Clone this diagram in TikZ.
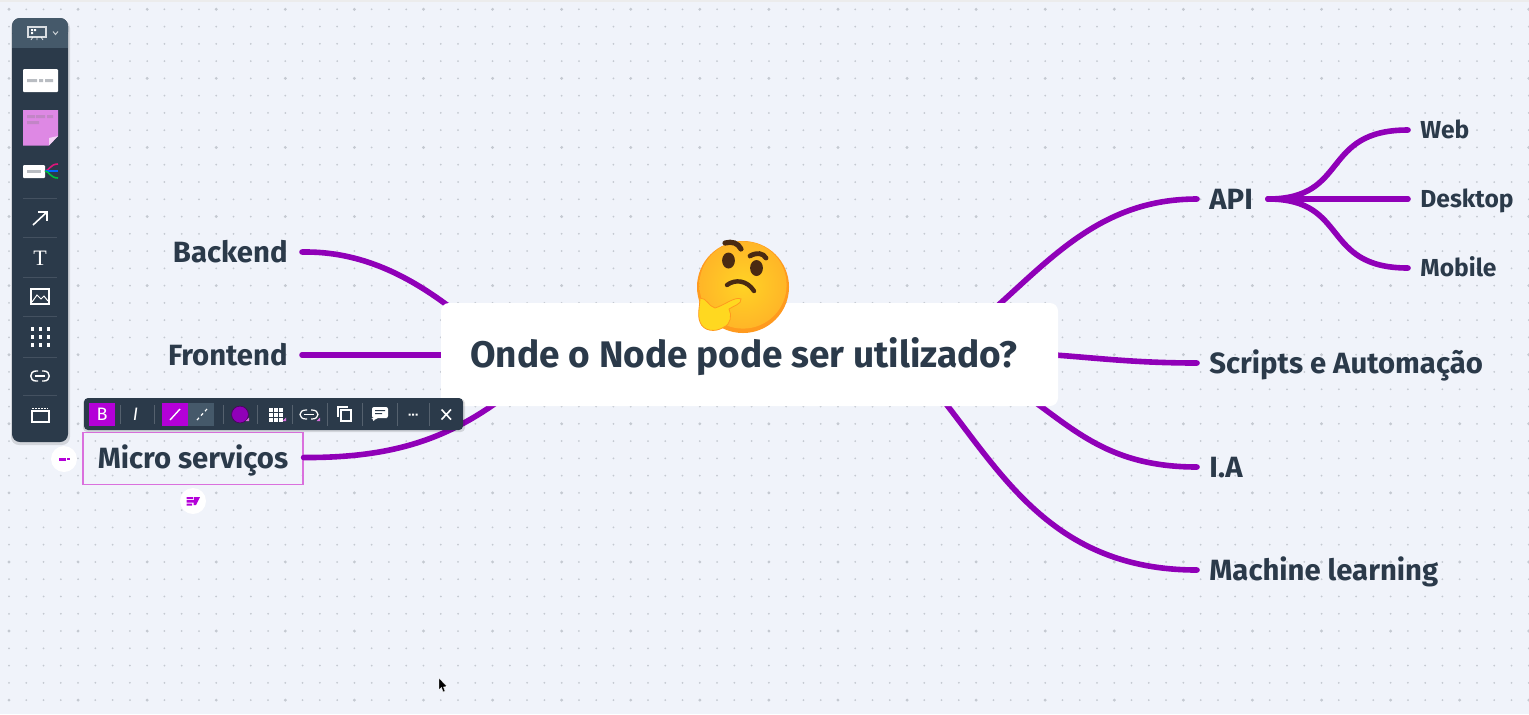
\documentclass[tikz,border=0pt]{standalone}
\usepackage{fontspec}
\setmainfont{Fira Sans}
\newfontfamily\serifish{Liberation Serif}
\definecolor{bgc}{HTML}{F0F3FA}
\definecolor{ink}{HTML}{2B3A4A}
\definecolor{barc}{HTML}{2B3A4A}
\definecolor{barl}{HTML}{45596A}
\definecolor{purp}{HTML}{9000B8}
\definecolor{mag}{HTML}{B400D8}
\definecolor{pinkb}{HTML}{DA70DD}
\definecolor{sticky}{HTML}{DE88E4}
\definecolor{dotc}{HTML}{C4C9D1}
\definecolor{gbar}{HTML}{B9BDC2}
\definecolor{yel}{HTML}{FFC82E}
\definecolor{ora}{HTML}{FF9A1E}
\definecolor{brow}{HTML}{4A2A12}
\tikzset{
  lab/.style={font=\bfseries\fontsize{14.65}{16}\selectfont,text=ink,inner ysep=4pt,inner xsep=6pt,text height=10pt,text depth=0pt},
  sublab/.style={font=\bfseries\fontsize{12.3}{14}\selectfont,text=ink,inner ysep=4pt,inner xsep=6pt,text height=8.6pt,text depth=0pt},
  conn/.style={draw=purp,line width=2.8pt,line cap=round},
  ico/.style={draw=white,line width=0.6pt},
  sep/.style={draw=white,opacity=0.12,line width=0.5pt},
  tsep/.style={draw=white,opacity=0.2,line width=0.5pt},
  wbtn/.style={circle,fill=white,minimum size=13pt,inner sep=0pt},
}
\begin{document}
\begin{tikzpicture}[x=0.5pt,y=-0.5pt]
\useasboundingbox (0,0) rectangle (1529,714);
\fill[bgc] (0,0) rectangle (1529,714);
\fill[white!85!gray] (0,0) rectangle (1529,2);
% dots
\foreach \i in {0,...,88}{\foreach \j in {0,...,40}{
  \pgfmathtruncatemacro{\big}{(mod(\i,4)==0 && mod(\j,4)==0)?1:0}
  \ifnum\big=1 \fill[dotc] ({9+17.27*\i},{9.3+17.27*\j}) circle (0.8pt);
  \else \fill[dotc] ({9+17.27*\i},{9.3+17.27*\j}) circle (0.5pt);\fi
}}
% labels
\node[lab,inner xsep=7pt,anchor=east] (back) at (288+14,252) {Backend};
\node[lab,inner xsep=7pt,anchor=east] (front) at (288+14,355) {Frontend};
\node[lab,anchor=center,draw=pinkb,line width=0.6pt,minimum width=110pt,minimum height=26pt,inner sep=0pt] (micro) at (193,458.5) {Micro serviços};
\node[lab,anchor=west] (api) at (1197,199) {API};
\node[lab,anchor=west] (scripts) at (1197,363) {Scripts e Automação};
\node[lab,anchor=west] (ia) at (1197,467) {I.A};
\node[lab,anchor=west] (ml) at (1197,570) {Machine learning};
\node[sublab,anchor=west] (web) at (1408,130) {Web};
\node[sublab,anchor=west] (desk) at (1408,199) {Desktop};
\node[sublab,anchor=west] (mob) at (1408,268) {Mobile};
\coordinate (cBack) at (460,315);
\coordinate (cFront) at (460,355);
\coordinate (cMicro) at (500,400);
\coordinate (cApi) at (985,317);
\coordinate (cScr) at (1040,354);
\coordinate (cIa) at (1025,395);
\coordinate (cMl) at (935,390);
\coordinate (apiR) at (1268,199);
% connectors
\draw[conn] (back.east) .. controls (360,251) and (410,275) .. (cBack);
\draw[conn] (front.east) -- (cFront);
\draw[conn] (micro.east) ++(0,-1) .. controls (390,458) and (445,440) .. (cMicro);
\draw[conn] (api.west) .. controls (1100,199) and (1050,260) .. (cApi);
\draw[conn] (scripts.west) .. controls (1130,363) and (1090,357) .. (cScr);
\draw[conn] (ia.west) .. controls (1110,467) and (1075,430) .. (cIa);
\draw[conn] (ml.west) .. controls (1050,570) and (1000,470) .. (cMl);
\draw[conn] (apiR) .. controls (1350,199) and (1320,130) .. (web.west);
\draw[conn] (apiR) -- (desk.west);
\draw[conn] (apiR) .. controls (1350,199) and (1320,268) .. (mob.west);
% centre
\node[fill=white,rounded corners=4pt,minimum width=308.5pt,minimum height=51.5pt,inner sep=0pt] (centre) at (749.5,354.5) {};
\node[font=\bfseries\fontsize{18.5}{20}\selectfont,text=ink,anchor=center,text height=12.8pt,text depth=0pt] (ctext) at (744,355) {Onde o Node pode ser utilizado?};
% emoji
\fill[ora] (743,287) circle (23pt);
\shade[inner color=yel!80!yellow,outer color=ora!40!yel] (743,285) circle (21.8pt);
\draw[brow,line width=2.6pt,line cap=round] (725,243) .. controls (732,241) and (738,243) .. (741,249);
\draw[brow,line width=2.4pt,line cap=round] (750,256) .. controls (757,252) and (763,253) .. (766,258);
\fill[brow] (728.5,260.5) ellipse (3.2pt and 4pt);
\fill[brow] (756.5,268) ellipse (3.2pt and 4pt);
\draw[brow,line width=2.2pt,line cap=round] (727,285) .. controls (735,279) and (747,280) .. (754,291);
\fill[yel!70!yellow,draw=ora,line width=0.4pt] (700,298) .. controls (707,298) and (708,306) .. (715,308) .. controls (725,305) and (735,296) .. (741,299) .. controls (742,304) and (733,306) .. (729,309) .. controls (732,315) and (731,324) .. (724,327) .. controls (715,333) and (703,331) .. (700,322) .. controls (697,315) and (700,305) .. (700,298) -- cycle;
% left panel
\fill[black,opacity=0.12,rounded corners=4pt] (11,20) rectangle (70,445);
\fill[barc,rounded corners=4pt] (12,18) rectangle (68,442);
\fill[barl,rounded corners=4pt] (12,18) rectangle (68,40);
\fill[barl] (12,34) rectangle (68,48);
% presentation icon
\draw[ico,opacity=0.8] (28,27) rectangle (46,37);
\fill[white] (31,29) rectangle (33,31) (34,29) rectangle (36,31) (31,32) rectangle (33,34);
\draw[ico,opacity=0.8,line width=0.4pt] (33,37) -- (31,40) (37,37) -- (37,40) (41,37) -- (43,40);
\draw[white,opacity=0.7,line width=0.5pt] (53,31.5) -- (55.5,34.5) -- (58,31.5);
% card
\fill[white,rounded corners=0.5pt] (23,69) rectangle (58,92);
\fill[gbar] (27,79) rectangle (37,82) (39,79) rectangle (43,82) (45,79) rectangle (53,82);
% sticky
\fill[sticky] (23,110) -- (58,110) -- (58,136) -- (49,145.5) -- (23,145.5) -- cycle;
\fill[white!65!sticky] (58,136) -- (49,145.5) -- (49,138) -- cycle;
\fill[sticky!70!gray] (27,115) rectangle (35,118) (36,115) rectangle (45,118) (47,115) rectangle (53,118) (27,121) rectangle (39,124);
% mini map
\fill[white,rounded corners=0.5pt] (23,165) rectangle (45,178);
\fill[gbar] (27,170) rectangle (41,173);
\draw[magenta!70!purple,line width=0.8pt] (45,171) .. controls (49,171) and (50,164) .. (58,164);
\draw[blue!60!cyan,line width=0.8pt] (45,171) -- (58,171);
\draw[teal!50!green,line width=0.8pt] (45,171) .. controls (49,171) and (50,178) .. (58,178);
\draw[sep] (23,198) -- (57,198) (23,237) -- (57,237) (23,277) -- (57,277) (23,316) -- (57,316) (23,357) -- (57,357) (23,395) -- (57,395);
% arrow icon
\draw[ico,line width=0.8pt] (33,225) -- (47,212);
\draw[ico,line width=0.8pt] (38,212) -- (47,212) -- (47,221);
\node[font=\serifish\fontsize{11}{12}\selectfont,text=white,inner sep=0pt] (tico) at (40,258) {T};
% image icon
\draw[ico,line width=0.7pt] (31,289) rectangle (49,304);
\draw[ico,line width=0.5pt] (32,302) -- (37,295) -- (41,299) -- (44,296) -- (48,301);
% grid icon
\foreach \i in {0,1,2}{\foreach \j in {0,1,2}{\fill[white] (30.5+\i*8,327+\j*8) rectangle ++(3.6,3.6);}}
% link icon
\draw[ico,line width=0.7pt] (38,371) -- (36,371) .. controls (29,371) and (29,381) .. (36,381) -- (38,381);
\draw[ico,line width=0.7pt] (42,371) -- (44,371) .. controls (51,371) and (51,381) .. (44,381) -- (42,381);
\draw[ico,line width=0.7pt] (35,376) -- (45,376);
% frame icon
\draw[ico,line width=0.7pt] (32,411) rectangle (49,422);
\draw[ico,line width=0.5pt,dash pattern=on 1pt off 0.5pt] (32,408) -- (48,408);
% minus button
\node[wbtn] (minus) at (64,459) {};
\fill[mag] (59,457.5) rectangle (66,460.5);
\fill[mag] (67,458) rectangle (70,460);
% add button
\node[wbtn] (add) at (193,501) {};
\fill[mag] (186.5,497) rectangle (193,499) (186.5,500) rectangle (195,502.5) (186.5,503.5) rectangle (192,505.5);
\fill[mag] (194,497) -- (200,497) -- (196,505) -- (193.5,505) -- cycle;
% toolbar
\fill[black,opacity=0.12,rounded corners=2pt] (83,399) rectangle (465,432);
\fill[barc,rounded corners=2pt] (84,398) rectangle (463,430);
\fill[mag] (89,403) rectangle (115,426);
\node[font=\fontsize{9}{10}\selectfont,text=white,inner sep=0pt] (bb) at (102,414.5) {B};
\node[font=\itshape\fontsize{9}{10}\selectfont,text=white,inner sep=0pt] (ii) at (135.5,414.5) {I};
\fill[mag] (162,403) rectangle (188,426);
\fill[barl] (188,403) rectangle (214,426);
\draw[white,line width=0.7pt] (170,420) -- (180,409);
\draw[white,line width=0.6pt,dash pattern=on 1.5pt off 1.5pt] (197,420) -- (207,409);
\draw[tsep] (120,405) -- (120,424) (154,405) -- (154,424) (223,405) -- (223,424) (257,405) -- (257,424) (292,405) -- (292,424) (327,403) -- (327,426) (362,403) -- (362,426) (397,403) -- (397,426) (429,403) -- (429,426);
\fill[purp,draw=black!50!purp,line width=0.3pt] (240,414.5) circle (4.2pt);
\foreach \i in {0,1,2}{\foreach \j in {0,1,2}{\fill[white] (269+\i*5.2,408+\j*5.2) rectangle ++(3.6,3.6);}}
\fill[pinkb] (249,421) -- (249,417.5) -- (245.5,421) -- cycle (286,421) -- (286,417.5) -- (282.5,421) -- cycle (320,421) -- (320,417.5) -- (316.5,421) -- cycle;
\draw[ico,line width=0.6pt] (307,410) -- (306,410) .. controls (298,410) and (298,419) .. (306,419) -- (307,419);
\draw[ico,line width=0.6pt] (311,410) -- (312,410) .. controls (320,410) and (320,419) .. (312,419) -- (311,419);
\draw[ico,line width=0.6pt] (304,414.5) -- (314,414.5);
\draw[ico,line width=0.6pt] (338,417) -- (338,407) -- (348,407);
\draw[ico,line width=0.7pt] (341,410) rectangle (351,421);
\fill[white,rounded corners=1pt] (372,407) rectangle (388,418) -- (376,418) -- (373,422) -- (373,418) -- (372,418) -- cycle;
\fill[barc] (375,410) rectangle (385,411.2) (375,413) rectangle (382,414.2);
\fill[white] (408.5,413.5) rectangle ++(2,2) (412,413.5) rectangle ++(2,2) (415.5,413.5) rectangle ++(2,2);
\draw[white,line width=0.8pt] (441.5,409.5) -- (451,419.5) (451,409.5) -- (441.5,419.5);
% cursor
\fill[black,draw=white,line width=0.2pt] (439,678) -- (439,690) -- (441.5,687.5) -- (443,692) -- (445,691) -- (443.5,687) -- (447,686.5) -- cycle;
\end{tikzpicture}
\end{document}
